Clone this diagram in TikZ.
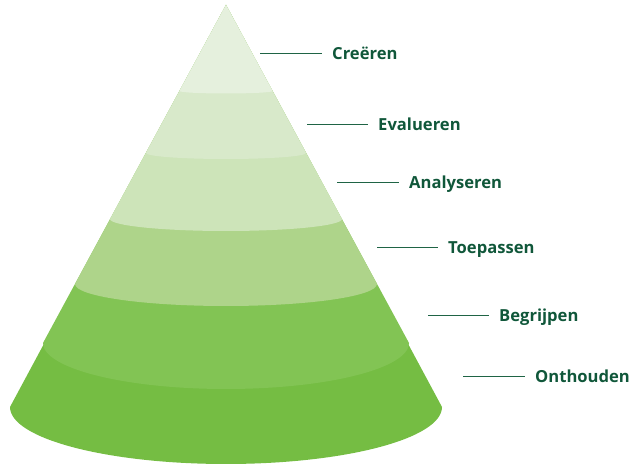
\documentclass[tikz,border=0pt]{standalone}
\usepackage{fontspec}
\setmainfont{Open Sans}
\definecolor{c1}{HTML}{E5F0DD}
\definecolor{c2}{HTML}{D8E9CA}
\definecolor{c3}{HTML}{CDE4B9}
\definecolor{c4}{HTML}{AED48A}
\definecolor{c5}{HTML}{82C454}
\definecolor{c6}{HTML}{75BD43}
\definecolor{txt}{HTML}{10573A}
\definecolor{ln}{HTML}{1F6445}
\tikzset{
  lbl/.style={anchor=west, font=\bfseries\fontsize{16.6}{19}\selectfont, text=txt,
    inner xsep=10pt, inner ysep=0pt, text height=12pt, text depth=0pt},
  conn/.style={draw=ln, line width=1pt}
}
\begin{document}
\begin{tikzpicture}[x=1pt,y=1pt]
\useasboundingbox (0,0) rectangle (634,465);
% apex at (226,460); layers filled bottom up
\coordinate (apex) at (226,460);
\fill[c6] (apex) -- (10,58) arc[start angle=180, end angle=360, x radius=216pt, y radius=57pt] -- cycle;
\fill[c5] (apex) -- (43,122) arc[start angle=180, end angle=360, x radius=183pt, y radius=46pt] -- cycle;
\fill[c4] (apex) -- (75,181) arc[start angle=180, end angle=360, x radius=151pt, y radius=22pt] -- cycle;
\fill[c3] (apex) -- (110,246) arc[start angle=180, end angle=360, x radius=116pt, y radius=12pt] -- cycle;
\fill[c2] (apex) -- (146,312) arc[start angle=180, end angle=360, x radius=80pt, y radius=6pt] -- cycle;
\fill[c1] (apex) -- (179.5,374) arc[start angle=180, end angle=360, x radius=46.5pt, y radius=2.5pt] -- cycle;

% labels
\node[lbl] (l1) at (322,411.5) {Creëren};
\node[lbl] (l2) at (368,340) {Evalueren};
\node[lbl] (l3) at (399,282) {Analyseren};
\node[lbl] (l4) at (438,217) {Toepassen};
\node[lbl] (l5) at (489,149) {Begrijpen};
\node[lbl] (l6) at (525,88.5) {Onthouden};
\coordinate (s1) at (260,411.5);
\coordinate (s2) at (307,340);
\coordinate (s3) at (337,282);
\coordinate (s4) at (377,217);
\coordinate (s5) at (428,149);
\coordinate (s6) at (463,88.5);
\foreach \i in {1,...,6} \draw[conn] (s\i) -- (l\i.west);
\end{tikzpicture}
\end{document}
